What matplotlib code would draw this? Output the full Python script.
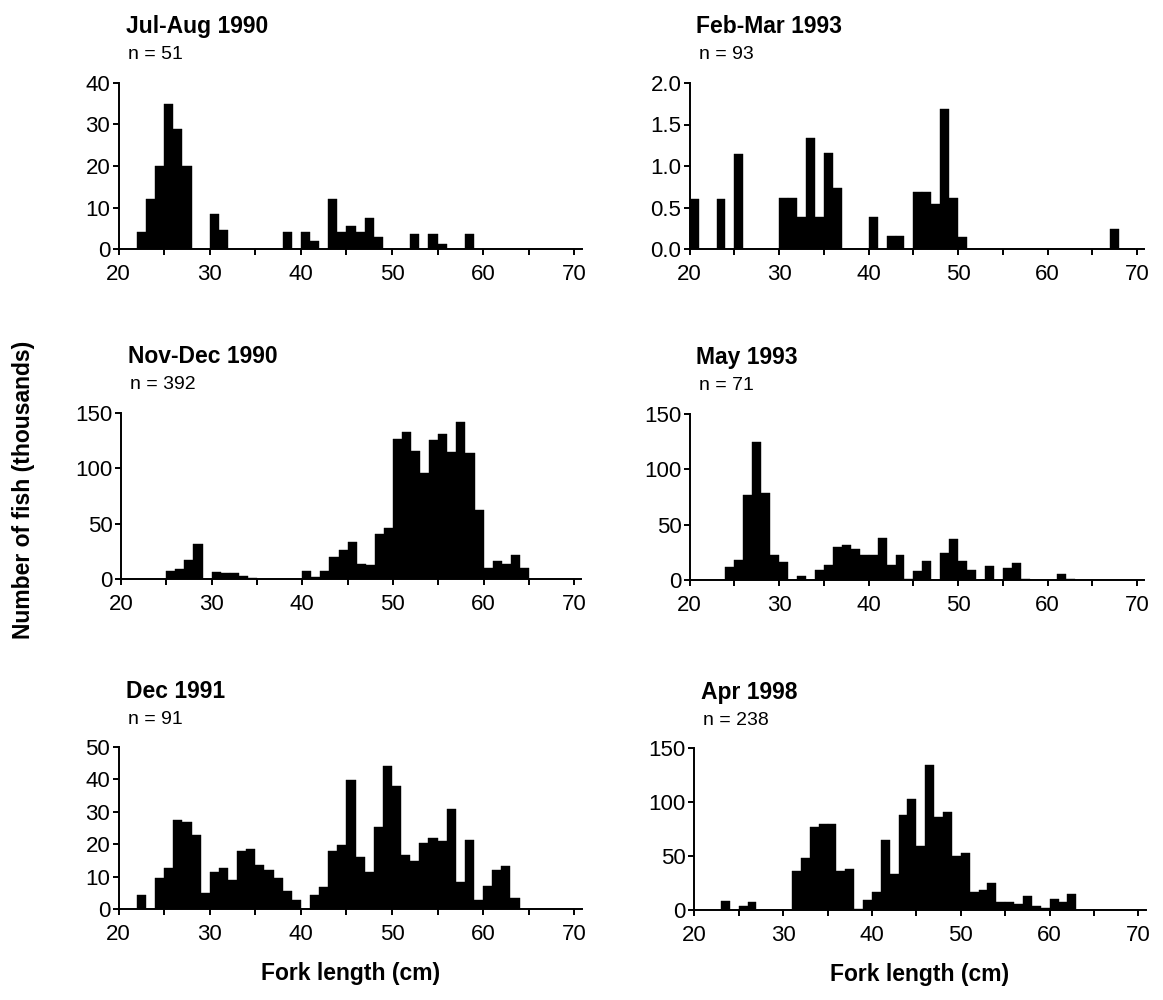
# coding:utf-8
# Fork length frequency histograms, six sampling periods
import numpy as np
import matplotlib
matplotlib.use("Agg")
import matplotlib.pyplot as plt
from matplotlib.ticker import MultipleLocator, FormatStrFormatter

plt.rcParams['font.family'] = ['Liberation Sans', 'DejaVu Sans']

# 1 cm length classes, 20-21 ... 69-70
fork_cm = np.arange(20, 70)

# number of fish (thousands) per length class
jul_aug_1990 = [0, 0, 4, 12, 20, 35, 29, 20, 0, 0,
                8.5, 4.5, 0, 0, 0, 0, 0, 0, 4, 0,
                4, 2, 0, 12, 4, 5.5, 4, 7.5, 3, 0,
                0, 0, 3.5, 0, 3.5, 1.2, 0, 0, 3.5, 0,
                0, 0, 0, 0, 0, 0, 0, 0, 0, 0]
feb_mar_1993 = [0.6, 0, 0, 0.6, 0, 1.15, 0, 0, 0, 0,
                0.62, 0.62, 0.38, 1.34, 0.38, 1.16, 0.74, 0, 0, 0,
                0.39, 0, 0.16, 0.16, 0, 0.69, 0.69, 0.54, 1.69, 0.61,
                0.15, 0, 0, 0, 0, 0, 0, 0, 0, 0,
                0, 0, 0, 0, 0, 0, 0, 0.24, 0, 0]
nov_dec_1990 = [0, 0, 0, 0, 0, 7, 9, 17.6, 32, 0,
                6.7, 5.5, 5.5, 3, 1, 0, 0, 0, 0, 0,
                7, 2, 7, 19.5, 26, 33, 14, 12.7, 40.5, 46,
                126.7, 133, 116, 95.5, 126, 131, 114.5, 142, 113.6, 62.7,
                10, 16.7, 13.6, 22, 10, 0, 0, 0, 0, 0]
may_1993 = [0, 0, 0, 0, 11.4, 17.7, 76.6, 125, 78.7, 22.5,
            16, 0, 3.6, 0, 9, 14, 29.4, 31.5, 28, 22.5,
            22.5, 38, 14, 23, 1, 8.4, 17, 0, 24.6, 36.6,
            17.4, 8.7, 0, 12.3, 0, 10.5, 15.6, 1, 0, 0,
            0, 5.7, 0.5, 0, 0, 0, 0, 0, 0, 0]
dec_1991 = [0, 0, 4.3, 0, 9.6, 12.6, 27.5, 27, 22.7, 5,
            11.5, 12.6, 9, 18, 18.6, 13.7, 11.9, 9.5, 5.5, 2.9,
            0, 4.2, 6.7, 17.8, 19.7, 39.9, 16, 11.3, 25.2, 44,
            38, 16.7, 14.8, 20.3, 22, 21, 31, 8.2, 21.4, 2.8,
            7, 11.9, 13.4, 3.4, 0, 0, 0, 0, 0, 0]
apr_1998 = [0, 0, 0, 8.7, 0, 3.7, 7.1, 0, 0, 0,
            0, 36, 48, 77, 80, 80, 36, 37.8, 1, 9.3,
            17, 65, 33, 88, 103, 59.4, 134.7, 86, 90.7, 50.3,
            52.6, 16.4, 18.3, 25.4, 7.7, 7, 5.6, 13.3, 4, 2,
            10, 7.7, 14.9, 0, 0, 0, 0, 0, 0, 0]

titles = ["Jul-Aug 1990", "Feb-Mar 1993", "Nov-Dec 1990",
          "May 1993", "Dec 1991", "Apr 1998"]
sample_n = ["n = 51", "n = 93", "n = 392", "n = 71", "n = 91", "n = 238"]
series = [jul_aug_1990, feb_mar_1993, nov_dec_1990, may_1993, dec_1991, apr_1998]
y_top = [40, 2.0, 150, 150, 50, 150]
y_step = [10, 0.5, 50, 50, 10, 50]

# axes boxes in figure fraction [left, bottom, width, height]
boxes = [[0.102, 0.751, 0.398, 0.166], [0.593, 0.751, 0.391, 0.166],
         [0.104, 0.421, 0.396, 0.166], [0.593, 0.420, 0.391, 0.166],
         [0.102, 0.091, 0.398, 0.162], [0.597, 0.090, 0.388, 0.162]]

fig = plt.figure(figsize=(11.63, 10), dpi=100)

for i in range(6):
    ax = fig.add_axes(boxes[i])
    ax.bar(fork_cm, series[i], width=1.0, align='edge', color='black',
           edgecolor='black', linewidth=0.3)
    ax.set_xlim(20, 70.8)
    ax.set_ylim(0, y_top[i])
    ax.set_xticks(np.arange(20, 71, 5))
    ax.set_xticklabels([str(v) if v % 10 == 0 else "" for v in range(20, 71, 5)])
    ax.yaxis.set_major_locator(MultipleLocator(y_step[i]))
    if i == 1:
        ax.yaxis.set_major_formatter(FormatStrFormatter('%.1f'))
    for s in ['top', 'right']:
        ax.spines[s].set_visible(False)
    for s in ['left', 'bottom']:
        ax.spines[s].set_linewidth(1.4)
    ax.tick_params(axis='x', direction='out', length=4, width=1.4,
                   labelsize=16, pad=7)
    ax.tick_params(axis='y', direction='out', length=4, width=1.4,
                   labelsize=16, pad=2)
    ax.text(0.015, 1.34, titles[i], transform=ax.transAxes, fontsize=16.5,
            fontweight='bold', ha='left', va='center')
    ax.text(0.02, 1.17, sample_n[i], transform=ax.transAxes, fontsize=14,
            ha='left', va='center')
    if i >= 4:
        ax.set_xlabel("Fork length (cm)", fontsize=16.5, fontweight='bold',
                      labelpad=12)

fig.text(0.02, 0.51, "Number of fish (thousands)", rotation=90,
         fontsize=16.5, fontweight='bold', ha='center', va='center')

plt.savefig("out.png", dpi=100)
